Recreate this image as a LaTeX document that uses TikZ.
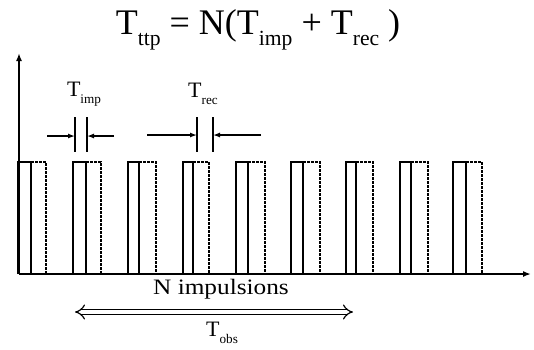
\documentclass[tikz,border=0pt]{standalone}
\usepackage{fontspec}
\setmainfont{Liberation Serif}
\usetikzlibrary{arrows.meta}
\newcommand\dsub[1]{\raisebox{-0.32em}{\scalebox{0.6}{#1}}}
\tikzset{
  axis/.style={line width=1.6pt,-{Latex[length=8pt,width=6pt]}},
  solidp/.style={line width=1.4pt},
  dashp/.style={line width=1.6pt,dash pattern=on 3pt off 1pt},
  tick/.style={line width=1.3pt},
  meas/.style={line width=1.3pt,-{Latex[length=7pt,width=5pt]}},
  lbl/.style={inner sep=0pt,font=\fontsize{22}{26}\selectfont},
  span/.style={line width=1.2pt,double distance=4pt,{Implies[length=8pt,width=20pt]}-{Implies[length=8pt,width=20pt]}}
}
\begin{document}
\begin{tikzpicture}[x=1pt,y=-1pt]
\useasboundingbox (0,0) rectangle (534,349);
% title
\node[inner sep=0pt,font=\fontsize{36}{40}\selectfont] (title) at (258,30) {T\dsub{ttp} = N(T\dsub{imp} + T\dsub{rec} )};
% axes
\coordinate (o) at (19,274);
\coordinate (ytop) at (19,53);
\coordinate (xend) at (531,274);
\draw[axis] (o) -- (ytop);
\draw[axis] (o) -- (xend);
% pulses
\foreach \a/\b/\c [count=\i] in {18/31/46,73/86/101,128/139/156,183/193/209,236/248/265,291/303/320,346/356/373,400/411/428,453/466/482}{
  \coordinate (p\i a) at (\a,274);
  \coordinate (p\i b) at (\a,162);
  \coordinate (p\i c) at (\b,162);
  \coordinate (p\i d) at (\b,274);
  \coordinate (p\i e) at (\c,162);
  \coordinate (p\i f) at (\c,274);
  \draw[solidp] (p\i a) -- (p\i b) -- (p\i c) -- (p\i d);
  \draw[dashp] (p\i c) -- (p\i e) -- (p\i f);
}
% T_imp measure
\coordinate (ia1) at (75,117); \coordinate (ia2) at (75,152);
\coordinate (ib1) at (87,117); \coordinate (ib2) at (87,152);
\draw[tick] (ia1) -- (ia2);
\draw[tick] (ib1) -- (ib2);
\coordinate (il) at (47,136); \coordinate (ilt) at (75,136);
\coordinate (ir) at (114,136); \coordinate (irt) at (87,136);
\draw[meas] (il) -- (ilt);
\draw[meas] (ir) -- (irt);
\node[lbl] (timp) at (84,94) {T\dsub{imp}};
% T_rec measure
\coordinate (ra1) at (197,117); \coordinate (ra2) at (197,152);
\coordinate (rb1) at (213,117); \coordinate (rb2) at (213,152);
\draw[tick] (ra1) -- (ra2);
\draw[tick] (rb1) -- (rb2);
\coordinate (rl) at (147,135); \coordinate (rlt) at (197,135);
\coordinate (rr) at (261,135); \coordinate (rrt) at (213,135);
\draw[meas] (rl) -- (rlt);
\draw[meas] (rr) -- (rrt);
\node[lbl] (trec) at (203,94) {T\dsub{rec}};
% N impulsions
\node[lbl] (nimp) at (221,289) {\scalebox{1.15}[1]{N impulsions}};
\coordinate (sl) at (75,312); \coordinate (sr) at (353,312);
\draw[span] (sl) -- (sr);
\node[lbl] (tobs) at (222,333) {T\dsub{obs}};
\end{tikzpicture}
\end{document}
